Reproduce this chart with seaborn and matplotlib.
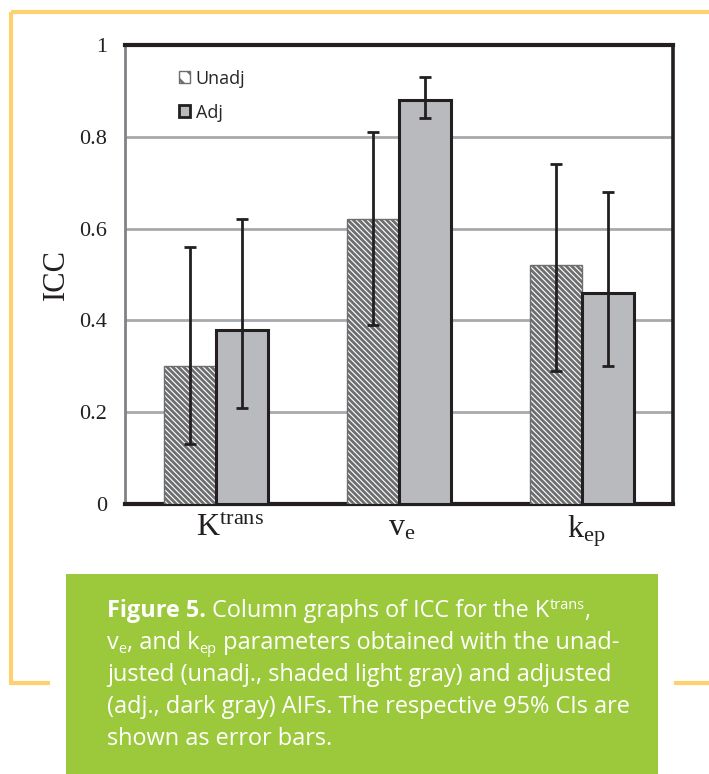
import numpy as np
import pandas as pd
import matplotlib
matplotlib.use("Agg")
import matplotlib.pyplot as plt
import matplotlib.transforms as mtransforms
from matplotlib.patches import Patch, Rectangle
from matplotlib.lines import Line2D
import seaborn as sns

# ICC values with 95% confidence limits for each pharmacokinetic parameter
params = ["Ktrans", "ve", "kep"]
param_labels = [r"$\mathrm{K}^{\mathrm{trans}}$", r"$\mathrm{v}_{\mathrm{e}}$", r"$\mathrm{k}_{\mathrm{ep}}$"]
groups = ["Unadj", "Adj"]
unadj_icc = [0.30, 0.62, 0.52]
unadj_lo = [0.13, 0.39, 0.29]
unadj_hi = [0.56, 0.81, 0.74]
adj_icc = [0.38, 0.88, 0.46]
adj_lo = [0.21, 0.84, 0.30]
adj_hi = [0.62, 0.93, 0.68]
y_ticks = [0, 0.2, 0.4, 0.6, 0.8, 1]
y_tick_labels = ["0", "0.2", "0.4", "0.6", "0.8", "1"]

caption_lines = [
    [("Figure 5.", "bold"), (" Column graphs of ICC for the K", "reg"), ("trans", "sup"), (",", "reg")],
    [("v", "reg"), ("e", "sub"), (", and k", "reg"), ("ep", "sub"), (" parameters obtained with the unad-", "reg")],
    [("justed (unadj., shaded light gray) and adjusted", "reg")],
    [("(adj., dark gray) AIFs. The respective 95% CIs are", "reg")],
    [("shown as error bars.", "reg")],
]

sns.set_theme(style="white")
plt.rcParams["font.family"] = ["Liberation Serif", "DejaVu Serif"]
plt.rcParams["mathtext.fontset"] = "custom"
plt.rcParams["mathtext.rm"] = "Liberation Serif"
plt.rcParams["mathtext.it"] = "Liberation Serif:italic"
plt.rcParams["hatch.linewidth"] = 2.0
plt.rcParams["hatch.color"] = "#231f20"

W, H = 709, 774
fig = plt.figure(figsize=(W / 100, H / 100), dpi=100)
fig.patch.set_facecolor("white")

def fx(px):
    return px / W

def fy(py):
    return 1 - py / H

ax = fig.add_axes([fx(125), fy(504), fx(673) - fx(125), fy(45) - fy(504)])

df = pd.DataFrame({
    "param": params * 2,
    "aif": [groups[0]] * 3 + [groups[1]] * 3,
    "icc": unadj_icc + adj_icc,
})

unadj_fill = "white"
adj_fill = "#b9babd"
hatch = "\\" * 6
sns.barplot(data=df, x="param", y="icc", hue="aif", order=params, hue_order=groups,
            palette=[unadj_fill, adj_fill], width=0.57, gap=0, errorbar=None,
            saturation=1, legend=False, ax=ax, zorder=3)

# styling of the two bar series
for bar in ax.containers[0]:
    bar.set_hatch(hatch)
    bar.set_edgecolor("#6d6e70")
    bar.set_linewidth(1.0)
for bar in ax.containers[1]:
    bar.set_edgecolor("#231f20")
    bar.set_linewidth(2.2)
    bar.set_hatch(None)

# asymmetric 95% CI error bars
for cont, vals, lo, hi in [(ax.containers[0], unadj_icc, unadj_lo, unadj_hi),
                           (ax.containers[1], adj_icc, adj_lo, adj_hi)]:
    xs = [b.get_x() + b.get_width() / 2 for b in cont]
    yerr = np.array([np.array(vals) - np.array(lo), np.array(hi) - np.array(vals)])
    ax.errorbar(xs, vals, yerr=yerr, fmt="none", ecolor="#231f20", elinewidth=2.0,
                capsize=4.2, capthick=2.0, zorder=5)

ax.set_xlim(-0.5, 2.5)
ax.set_ylim(0, 1)
ax.set_yticks(y_ticks)
ax.set_yticklabels(y_tick_labels)
ax.set_xticks(range(len(params)))
ax.set_xticklabels(param_labels)
ax.tick_params(axis="y", length=0, pad=13, labelsize=16, colors="#231f20")
ax.tick_params(axis="x", length=0, pad=7, labelsize=23, colors="#231f20")
# nudge the category labels slightly to the right of their ticks
label_nudges_px = [14, 3, 5]
for lab, dx in zip(ax.get_xticklabels(), label_nudges_px):
    lab.set_transform(lab.get_transform() + mtransforms.ScaledTranslation(dx / 100, 0, fig.dpi_scale_trans))
ax.set_xlabel("")
ax.set_ylabel("ICC", fontsize=22, color="#231f20", labelpad=6)

ax.yaxis.grid(True, color="#a7a9ac", linewidth=2.0, zorder=0)
ax.set_axisbelow(True)
for side, col, lw in [("top", "#231f20", 3.0), ("right", "#231f20", 2.6),
                      ("left", "#808285", 2.0), ("bottom", "#231f20", 3.0)]:
    ax.spines[side].set_visible(True)
    ax.spines[side].set_color(col)
    ax.spines[side].set_linewidth(lw)

handles = [Patch(facecolor=unadj_fill, edgecolor="#6d6e70", hatch="\\\\", linewidth=1.0),
           Patch(facecolor=adj_fill, edgecolor="#231f20", linewidth=2.0)]
ax.legend(handles, groups, loc="upper left", bbox_to_anchor=(0.098, 0.946),
          frameon=False, handlelength=0.65, handleheight=0.65, handletextpad=0.3,
          labelspacing=0.88, borderpad=0, borderaxespad=0,
          prop={"family": "Open Sans", "size": 13})

# decorative frame lines
yellow = "#fdd16f"
lw_frame = 3.0
for (x0, y0, x1, y1) in [(10.5, 12, 709, 12), (10.5, 12, 10.5, 683),
                         (9, 683, 50, 683), (674, 683, 709, 683)]:
    fig.add_artist(Line2D([fx(x0), fx(x1)], [fy(y0), fy(y1)], color=yellow,
                          linewidth=lw_frame, solid_capstyle="butt", transform=fig.transFigure))

# caption box
green = "#9cc93c"
fig.add_artist(Rectangle((fx(66), fy(774)), fx(658) - fx(66), fy(574) - fy(774),
                         facecolor=green, edgecolor="none", transform=fig.transFigure, zorder=1))

fig.canvas.draw()
renderer = fig.canvas.get_renderer()
cap_font = ["Open Sans", "DejaVu Sans"]
cap_size = 16.9
baselines = [617, 649, 681, 713, 745]
for line, base in zip(caption_lines, baselines):
    x = 107.0
    for txt, style in line:
        size = cap_size
        weight = "normal"
        dy = 0
        if style == "bold":
            weight = "bold"
        elif style == "sup":
            size = cap_size * 0.62
            dy = -8
        elif style == "sub":
            size = cap_size * 0.62
            dy = 4
        t = fig.text(fx(x), fy(base + dy), txt, color="white", fontsize=size,
                     fontweight=weight, family=cap_font, ha="left", va="baseline", zorder=2)
        bb = t.get_window_extent(renderer)
        x += bb.width

fig.savefig("out.png", dpi=100, facecolor="white")
